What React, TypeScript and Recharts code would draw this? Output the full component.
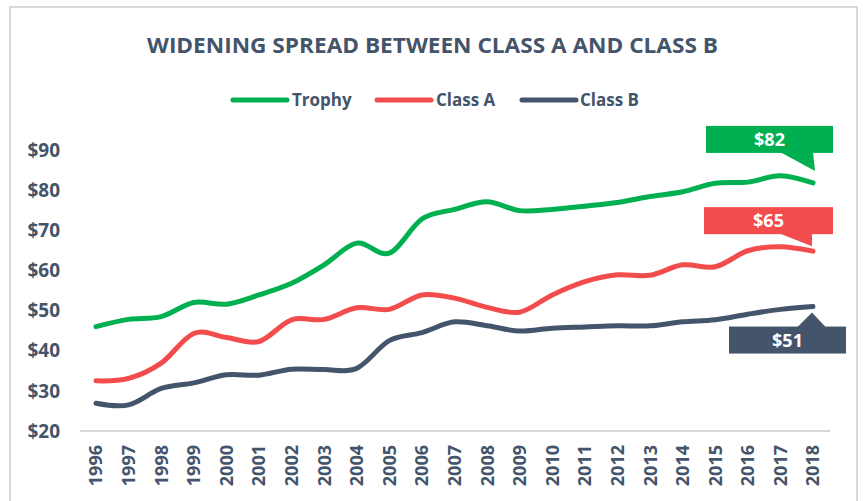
import React from 'react';
import { LineChart, Line, XAxis, YAxis } from 'recharts';

const years = ['1996','1997','1998','1999','2000','2001','2002','2003','2004','2005','2006','2007','2008','2009','2010','2011','2012','2013','2014','2015','2016','2017','2018'];
const trophy = [46.0, 47.8, 48.5, 52.0, 51.6, 53.9, 56.8, 61.4, 66.8, 64.3, 72.8, 75.2, 77.1, 74.9, 75.2, 76.0, 76.9, 78.4, 79.6, 81.7, 82.0, 83.6, 81.8];
const classA = [32.5, 33.1, 36.9, 44.3, 43.3, 42.3, 47.7, 47.8, 50.7, 50.3, 53.9, 53.1, 50.8, 49.6, 53.9, 57.2, 58.9, 58.8, 61.4, 60.9, 64.9, 65.9, 64.8];
const classB = [26.9, 26.5, 30.6, 32.0, 34.0, 33.9, 35.4, 35.3, 35.6, 42.5, 44.5, 47.2, 46.2, 44.9, 45.6, 45.9, 46.2, 46.2, 47.2, 47.7, 49.1, 50.3, 51.0];
const yTicks = [20, 30, 40, 50, 60, 70, 80, 90];
const seriesNames = ['Trophy', 'Class A', 'Class B'];
const title = 'WIDENING SPREAD BETWEEN CLASS A AND CLASS B';

const GREEN = '#00B050';
const RED = '#F24C4C';
const DARK = '#44546A';
const FONT = '"Open Sans", sans-serif';

const data = years.map((y, i) => ({ year: y, trophy: trophy[i], classA: classA[i], classB: classB[i] }));
const LAST = years.length - 1;

// Catmull-Rom style smoothing (like spreadsheet "smoothed line")
class Cardinal {
  _context: any; _k: number; _line: number = NaN; _point = 0;
  _x0 = NaN; _x1 = NaN; _x2 = NaN; _y0 = NaN; _y1 = NaN; _y2 = NaN;
  constructor(context: any, tension: number) { this._context = context; this._k = (1 - tension) / 6; }
  areaStart() { this._line = 0; }
  areaEnd() { this._line = NaN; }
  lineStart() { this._x0 = this._x1 = this._x2 = this._y0 = this._y1 = this._y2 = NaN; this._point = 0; }
  lineEnd() {
    switch (this._point) {
      case 2: this._context.lineTo(this._x2, this._y2); break;
      case 3: this._seg(this._x1, this._y1); break;
    }
    if (this._line || (this._line !== 0 && this._point === 1)) this._context.closePath();
    this._line = 1 - this._line;
  }
  _seg(x: number, y: number) {
    this._context.bezierCurveTo(
      this._x1 + this._k * (this._x2 - this._x0),
      this._y1 + this._k * (this._y2 - this._y0),
      this._x2 + this._k * (this._x1 - x),
      this._y2 + this._k * (this._y1 - y),
      this._x2, this._y2);
  }
  point(x: number, y: number) {
    x = +x; y = +y;
    switch (this._point) {
      case 0: this._point = 1; this._line ? this._context.lineTo(x, y) : this._context.moveTo(x, y); break;
      case 1: this._point = 2; this._x1 = x; this._y1 = y; break;
      case 2: this._point = 3; this._seg(x, y); break;
      default: this._seg(x, y); break;
    }
    this._x0 = this._x1; this._x1 = this._x2; this._x2 = x;
    this._y0 = this._y1; this._y1 = this._y2; this._y2 = y;
  }
}
const smoothCurve: any = (context: any) => new Cardinal(context, 0);

type Kind = 'green' | 'red' | 'dark';

const makeCallout = (kind: Kind) => (props: any) => {
  const { x, y, index, value } = props;
  if (index !== LAST || x == null || y == null) return null;
  let bx: number, by: number, bw: number, bh = 27, color: string, tail: string;
  if (kind === 'green') {
    bx = x - 107; by = y - 57; bw = 127; color = GREEN;
    tail = `${x - 33},${y - 31} ${x},${y - 31} ${x + 2},${y - 12}`;
  } else if (kind === 'red') {
    bx = x - 109; by = y - 44; bw = 129; color = RED;
    tail = `${x - 34},${y - 18} ${x - 1},${y - 18} ${x - 1},${y - 5}`;
  } else {
    bx = x - 84; by = y + 20; bw = 117; color = DARK;
    tail = `${x - 16},${y + 21} ${x - 1},${y + 6} ${x + 13},${y + 21}`;
  }
  return (
    <g>
      <rect x={bx} y={by} width={bw} height={bh} fill={color} />
      <polygon points={tail} fill={color} />
      <text x={bx + bw / 2} y={by + bh / 2} dy="0.36em" textAnchor="middle" fill="#FFFFFF"
        fontFamily={FONT} fontWeight={700} fontSize={18}>{`$${Math.round(Number(value))}`}</text>
    </g>
  );
};

const XTick = (props: any) => {
  const { x, y, payload } = props;
  const ty = y + 6;
  return (
    <text x={x} y={ty} transform={`rotate(-90, ${x}, ${ty})`} textAnchor="end" dy="0.36em"
      fill={DARK} fontFamily={FONT} fontWeight={700} fontSize={18}>{payload.value}</text>
  );
};

export default function App() {
  const legendItems = [
    { name: seriesNames[0], color: GREEN, x1: 233, x2: 287, tx: 292 },
    { name: seriesNames[1], color: RED, x1: 377, x2: 431, tx: 436 },
    { name: seriesNames[2], color: DARK, x1: 522, x2: 576, tx: 580 },
  ];
  return (
    <div style={{ position: 'absolute', left: 0, top: 0, width: 863, height: 501, overflow: 'hidden', background: '#fff' }}>
      <LineChart width={863} height={501} data={data} margin={{ top: 150, right: 33, bottom: 0, left: 0 }}>
        <XAxis dataKey="year" height={70} padding={{ left: 16, right: 17 }} interval={0}
          stroke="#D9D9D9" strokeWidth={2} tickLine={false} tick={<XTick />} />
        <YAxis type="number" domain={[20, 90]} ticks={yTicks} width={80} axisLine={false} tickLine={false}
          tickMargin={14} allowDataOverflow
          tick={{ fill: DARK, fontFamily: FONT, fontWeight: 700, fontSize: 19 }}
          tickFormatter={(v: number) => `$${v}`} />
        <Line type={smoothCurve} dataKey="trophy" name={seriesNames[0]} stroke={GREEN} strokeWidth={5} strokeLinecap="round"
          dot={false} activeDot={false} isAnimationActive={false} label={makeCallout('green')} />
        <Line type={smoothCurve} dataKey="classA" name={seriesNames[1]} stroke={RED} strokeWidth={5} strokeLinecap="round"
          dot={false} activeDot={false} isAnimationActive={false} label={makeCallout('red')} />
        <Line type={smoothCurve} dataKey="classB" name={seriesNames[2]} stroke={DARK} strokeWidth={5} strokeLinecap="round"
          dot={false} activeDot={false} isAnimationActive={false} label={makeCallout('dark')} />
      </LineChart>
      <svg width={863} height={501} style={{ position: 'absolute', left: 0, top: 0, pointerEvents: 'none' }}>
        <path d="M 10 520 L 10 7 L 857 7 L 857 520" fill="none" stroke="#D9D9D9" strokeWidth={2} />
        <text x={147} y={53} textLength={571} lengthAdjust="spacingAndGlyphs" fill={DARK}
          fontFamily={FONT} fontWeight={700} fontSize={21}>{title}</text>
        {legendItems.map((it) => (
          <g key={it.name}>
            <line x1={it.x1} y1={100} x2={it.x2} y2={100} stroke={it.color} strokeWidth={5} strokeLinecap="round" />
            <text x={it.tx} y={100} dy="0.36em" fill={DARK} fontFamily={FONT} fontWeight={700} fontSize={17}>{it.name}</text>
          </g>
        ))}
      </svg>
    </div>
  );
}
